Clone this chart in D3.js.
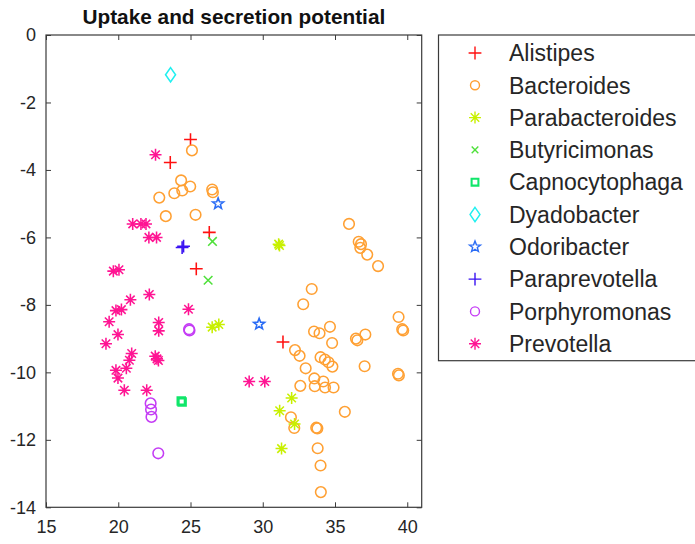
<!DOCTYPE html>
<html>
<head>
<meta charset="utf-8">
<script src="https://cdn.jsdelivr.net/npm/d3@7"></script>
<style>
  html, body { margin: 0; padding: 0; background: #fff; }
  svg { display: block; font-family: "Liberation Sans", Arial, sans-serif; }
</style>
</head>
<body>
<svg id="chart" width="695" height="544"></svg>
<script>
// Genus point sets: [x, y]
const alistipes = [[25.0,-3.1],[23.6,-3.78],[26.3,-5.85],[25.4,-6.93],[31.4,-9.1]];
const bacteroides = [
  [25.1,-3.42],[24.35,-4.31],[24.98,-4.49],[24.43,-4.61],[23.88,-4.69],[22.84,-4.82],
  [26.5,-4.58],[26.55,-4.66],[23.29,-5.37],[25.35,-5.33],
  [35.97,-5.6],[36.64,-6.13],[36.8,-6.2],[36.75,-6.31],[37.23,-6.51],[37.98,-6.85],
  [33.39,-7.53],[32.8,-7.98],
  [39.4,-8.36],[39.65,-8.72],[39.72,-8.76],
  [34.65,-8.65],[33.55,-8.79],[33.93,-8.84],[37.1,-8.88],[36.45,-9.0],[36.55,-9.05],[34.8,-9.13],
  [32.23,-9.34],[32.55,-9.51],[34.0,-9.55],[34.3,-9.62],[34.55,-9.7],[34.82,-9.83],[37.05,-9.82],[32.97,-9.88],
  [39.36,-10.04],[39.42,-10.09],
  [33.57,-10.18],[34.19,-10.27],[32.6,-10.4],[33.6,-10.41],[34.31,-10.45],[34.9,-10.45],
  [35.68,-11.17],[31.95,-11.33],[32.18,-11.65],[33.7,-11.64],[33.78,-11.66],
  [33.8,-12.25],[34.0,-12.76],[34.02,-13.55]
];
const parabacteroides = [[31.1,-6.2],[31.16,-6.24],[26.5,-8.66],[26.96,-8.58],[32.0,-10.76],[31.17,-11.14],[32.2,-11.53],[31.3,-12.26]];
const butyricimonas = [[26.52,-6.12],[26.22,-7.27]];
const capnocytophaga = [[24.36,-10.85],[24.42,-10.88]];
const dyadobacter = [[23.62,-1.18]];
const odoribacter = [[26.91,-5.0],[29.75,-8.57]];
const paraprevotella = [[24.42,-6.3],[24.52,-6.26]];
const porphyromonas = [[24.9,-8.72],[24.93,-8.76],[22.24,-10.92],[22.27,-11.1],[22.3,-11.32],[22.77,-12.4]];
const prevotella = [
  [22.58,-3.55],[21.0,-5.6],[21.57,-5.6],[21.92,-5.6],[22.12,-6.0],[22.65,-6.0],[19.66,-7.0],[20.05,-6.96],
  [22.15,-7.69],[20.84,-7.85],[19.84,-8.17],[20.22,-8.14],[24.86,-8.13],[19.37,-8.5],[22.8,-8.52],[22.8,-8.77],
  [19.98,-8.88],[19.15,-9.15],[20.93,-9.44],[20.77,-9.64],[20.56,-9.88],[19.84,-9.94],[19.98,-10.17],
  [22.56,-9.52],[22.78,-9.65],[22.68,-9.6],[20.42,-10.53],[21.97,-10.53],[29.06,-10.27],[30.14,-10.27]
];

const genusNames = ["Alistipes","Bacteroides","Parabacteroides","Butyricimonas","Capnocytophaga",
                    "Dyadobacter","Odoribacter","Paraprevotella","Porphyromonas","Prevotella"];
const genusPoints = [alistipes, bacteroides, parabacteroides, butyricimonas, capnocytophaga,
                     dyadobacter, odoribacter, paraprevotella, porphyromonas, prevotella];
const genusColors = ["#ff1010","#ffa033","#c8f000","#4fe03a","#10e66a",
                     "#20f0f0","#2a6cf5","#3a12f2","#c43cf5","#ff1493"];
const genusMarkers = ["plus","circle","asterisk","cross","square",
                      "diamond","star","plus","circle","asterisk"];

const xTicks = [15,20,25,30,35,40];
const yTicks = [-14,-12,-10,-8,-6,-4,-2,0];
const titleText = "Uptake and secretion potential";

// Layout
const plot = {left: 46, right: 421.7, top: 35, bottom: 507.3};
const axisColor = "#3a3a3a";
const textColor = "#262626";

const svg = d3.select("#chart");
const x = d3.scaleLinear().domain([15, 41]).range([plot.left, plot.right]);
const y = d3.scaleLinear().domain([-14, 0]).range([plot.bottom, plot.top]);

// MATLAB-style marker outlines
function markerPath(type, legend) {
  const p = d3.path();
  if (type === "plus") {
    const r = 6.4;
    p.moveTo(-r, 0); p.lineTo(r, 0); p.moveTo(0, -r); p.lineTo(0, r);
  } else if (type === "cross") {
    const r = legend ? 3.3 : 4.3;
    p.moveTo(-r, -r); p.lineTo(r, r); p.moveTo(-r, r); p.lineTo(r, -r);
  } else if (type === "asterisk") {
    const r = 6.0, d = r * 0.7071;
    p.moveTo(-r, 0); p.lineTo(r, 0); p.moveTo(0, -r); p.lineTo(0, r);
    p.moveTo(-d, -d); p.lineTo(d, d); p.moveTo(-d, d); p.lineTo(d, -d);
  } else if (type === "circle") {
    const r = legend ? 4.5 : 5.3;
    p.moveTo(r, 0); p.arc(0, 0, r, 0, 2 * Math.PI); p.closePath();
  } else if (type === "square") {
    const h = legend ? 3.4 : 3.6;
    p.rect(-h, -h, 2 * h, 2 * h);
  } else if (type === "diamond") {
    const w = 5.0, h = 7.2;
    p.moveTo(0, -h); p.lineTo(w, 0); p.lineTo(0, h); p.lineTo(-w, 0); p.closePath();
  } else if (type === "star") {
    const ro = 5.8, ri = ro * 0.42;
    for (let i = 0; i < 10; i++) {
      const a = -Math.PI / 2 + i * Math.PI / 5;
      const rr = i % 2 === 0 ? ro : ri;
      const px = rr * Math.cos(a), py = rr * Math.sin(a);
      if (i === 0) p.moveTo(px, py); else p.lineTo(px, py);
    }
    p.closePath();
  }
  return p.toString();
}
function markerWidth(type) {
  return type === "square" ? 2.3 : 1.55;
}

// Axes background
svg.append("rect")
  .attr("x", plot.left).attr("y", plot.top)
  .attr("width", plot.right - plot.left).attr("height", plot.bottom - plot.top)
  .attr("fill", "#fff");

// Data markers
genusPoints.forEach((pts, i) => {
  svg.append("g")
    .attr("class", "series")
    .selectAll("path")
    .data(pts)
    .join("path")
    .attr("transform", d => `translate(${x(d[0])},${y(d[1])})`)
    .attr("d", markerPath(genusMarkers[i], false))
    .attr("fill", "none")
    .attr("stroke", genusColors[i])
    .attr("stroke-width", markerWidth(genusMarkers[i]))
    .attr("stroke-linejoin", "miter");
});

function styleAxis(g) {
  g.select(".domain").remove();
  g.selectAll(".tick line").attr("stroke", axisColor).attr("stroke-width", 1);
  g.selectAll(".tick text")
    .attr("fill", textColor)
    .style("font-size", "18px")
    .style("font-family", '"Liberation Sans", Arial, sans-serif');
}

const fmt = d => d3.format("")(d).replace("−", "-");

svg.append("g")
  .attr("transform", `translate(0,${plot.bottom})`)
  .call(d3.axisBottom(x).tickValues(xTicks).tickFormat(fmt).tickSizeInner(-5).tickSizeOuter(0).tickPadding(13))
  .call(styleAxis);
svg.append("g")
  .attr("transform", `translate(0,${plot.top})`)
  .call(d3.axisTop(x).tickValues(xTicks).tickFormat("").tickSizeInner(-5).tickSizeOuter(0))
  .call(styleAxis);
svg.append("g")
  .attr("transform", `translate(${plot.left},0)`)
  .call(d3.axisLeft(y).tickValues(yTicks).tickFormat(fmt).tickSizeInner(-5).tickSizeOuter(0).tickPadding(10))
  .call(styleAxis);
svg.append("g")
  .attr("transform", `translate(${plot.right},0)`)
  .call(d3.axisRight(y).tickValues(yTicks).tickFormat("").tickSizeInner(-5).tickSizeOuter(0))
  .call(styleAxis);

svg.append("rect")
  .attr("x", plot.left).attr("y", plot.top)
  .attr("width", plot.right - plot.left).attr("height", plot.bottom - plot.top)
  .attr("fill", "none").attr("stroke", axisColor).attr("stroke-width", 1.2);

// Title
svg.append("text")
  .attr("x", (plot.left + plot.right) / 2)
  .attr("y", 24)
  .attr("text-anchor", "middle")
  .attr("fill", "#111")
  .style("font-size", "20.8px")
  .style("font-weight", "bold")
  .text(titleText);

// Legend
const legend = {x: 438.5, y: 35, w: 300, h: 325.7, row0: 53, step: 32.3, markerX: 475, textX: 509};
svg.append("rect")
  .attr("x", legend.x).attr("y", legend.y)
  .attr("width", legend.w).attr("height", legend.h)
  .attr("fill", "#fff").attr("stroke", axisColor).attr("stroke-width", 1.2);

const items = svg.append("g").selectAll("g")
  .data(genusNames)
  .join("g")
  .attr("transform", (d, i) => `translate(0,${legend.row0 + i * legend.step})`);
items.append("path")
  .attr("transform", `translate(${legend.markerX},0)`)
  .attr("d", (d, i) => markerPath(genusMarkers[i], true))
  .attr("fill", "none")
  .attr("stroke", (d, i) => genusColors[i])
  .attr("stroke-width", (d, i) => markerWidth(genusMarkers[i]) * 0.9);
items.append("text")
  .attr("x", legend.textX)
  .attr("dy", "0.36em")
  .attr("fill", textColor)
  .style("font-size", "23px")
  .text(d => d);
</script>
</body>
</html>
